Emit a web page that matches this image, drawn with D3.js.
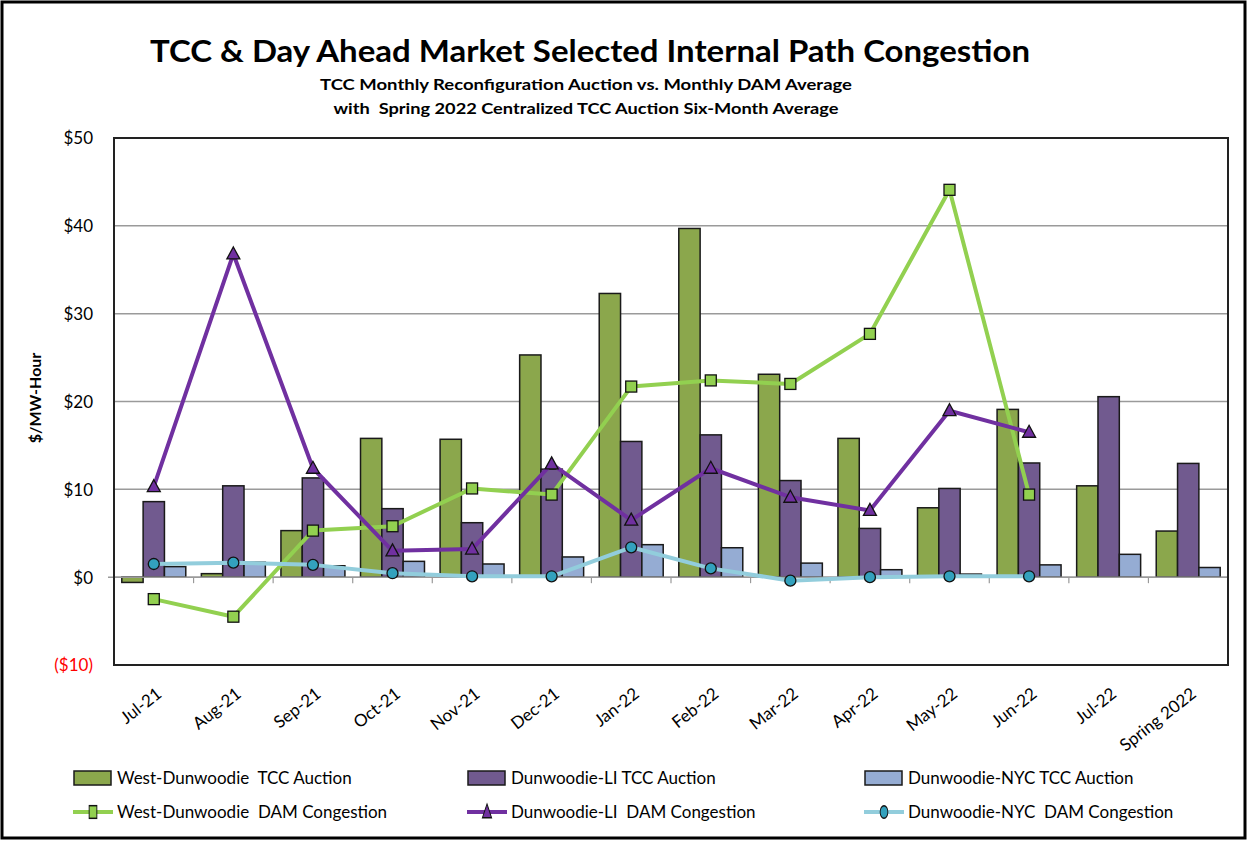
<!DOCTYPE html>
<html>
<head>
<meta charset="utf-8">
<script src="https://cdn.jsdelivr.net/npm/d3@7"></script>
<style>
  html, body { margin: 0; padding: 0; background: #fff; }
  svg { display: block; font-family: Lato, "Open Sans", sans-serif; }
</style>
</head>
<body>
<svg id="chart" width="1249" height="842"></svg>
<script>
// Months on the category axis (last one is the six-month auction)
const categories = ["Jul-21","Aug-21","Sep-21","Oct-21","Nov-21","Dec-21","Jan-22","Feb-22","Mar-22","Apr-22","May-22","Jun-22","Jul-22","Spring 2022"];

// TCC auction prices ($/MW-Hour)
const westDunwoodieTCC = [-0.6, 0.4, 5.3, 15.8, 15.7, 25.3, 32.3, 39.7, 23.1, 15.8, 7.9, 19.1, 10.4, 5.25];
const dunwoodieLITCC   = [8.6, 10.4, 11.3, 7.8, 6.2, 12.3, 15.45, 16.2, 11.0, 5.55, 10.1, 13.0, 20.55, 12.95];
const dunwoodieNYCTCC  = [1.2, 1.7, 1.3, 1.8, 1.5, 2.3, 3.7, 3.35, 1.6, 0.85, 0.35, 1.4, 2.6, 1.1];

// Monthly DAM congestion averages ($/MW-Hour); no DAM values after Jun-22
const westDunwoodieDAM = [-2.5, -4.5, 5.3, 5.8, 10.1, 9.4, 21.7, 22.4, 22.0, 27.7, 44.1, 9.4, null, null];
const dunwoodieLIDAM   = [10.3, 36.8, 12.4, 3.0, 3.2, 12.9, 6.5, 12.4, 9.1, 7.6, 18.95, 16.5, null, null];
const dunwoodieNYCDAM  = [1.5, 1.65, 1.4, 0.45, 0.1, 0.1, 3.4, 1.0, -0.4, 0.0, 0.1, 0.1, null, null];

const yTicks = [-10, 0, 10, 20, 30, 40, 50];

const barSeries = [
  { name: "West-Dunwoodie  TCC Auction", values: westDunwoodieTCC, color: "#8BA74C" },
  { name: "Dunwoodie-LI TCC Auction",    values: dunwoodieLITCC,   color: "#715A8F" },
  { name: "Dunwoodie-NYC TCC Auction",   values: dunwoodieNYCTCC,  color: "#95ACD3" }
];
const lineSeries = [
  { name: "West-Dunwoodie  DAM Congestion", values: westDunwoodieDAM, color: "#92D050", marker: "square",   fill: "#92D050" },
  { name: "Dunwoodie-LI  DAM Congestion",   values: dunwoodieLIDAM,   color: "#7030A0", marker: "triangle", fill: "#7030A0" },
  { name: "Dunwoodie-NYC  DAM Congestion",  values: dunwoodieNYCDAM,  color: "#92CDDC", marker: "circle",   fill: "#33A1BD" }
];

const svg = d3.select("#chart");
const W = 1249, H = 842;
const plot = { left: 114, right: 1228, top: 138, bottom: 665 };

// Outer frame
svg.append("rect").attr("x", 2).attr("y", 2).attr("width", W - 6).attr("height", H - 6)
  .attr("fill", "#fff").attr("stroke", "#000").attr("stroke-width", 3);

// Titles
svg.append("text").attr("x", 590).attr("y", 62).attr("text-anchor", "middle")
  .attr("font-size", 31).attr("font-weight", 700).attr("textLength", 880)
  .attr("lengthAdjust", "spacingAndGlyphs")
  .text("TCC & Day Ahead Market Selected Internal Path Congestion");
svg.append("text").attr("x", 586).attr("y", 90).attr("text-anchor", "middle")
  .attr("font-size", 16).attr("font-weight", 700).attr("textLength", 532)
  .attr("lengthAdjust", "spacingAndGlyphs")
  .text("TCC Monthly Reconfiguration Auction vs. Monthly DAM Average");
svg.append("text").attr("x", 586).attr("y", 114).attr("text-anchor", "middle")
  .attr("font-size", 16).attr("font-weight", 700).attr("textLength", 505)
  .attr("lengthAdjust", "spacingAndGlyphs").attr("xml:space", "preserve")
  .text("with  Spring 2022 Centralized TCC Auction Six-Month Average");

// Scales
const x = d3.scaleBand().domain(categories).range([plot.left, plot.right]);
const bw = x.bandwidth();
const xs = d3.scaleBand().domain(barSeries.map(d => d.name)).range([bw * 0.098, bw * 0.902]);
const y = d3.scaleLinear().domain([-10, 50]).range([plot.bottom, plot.top]);

// Gridlines
svg.append("g").selectAll("line").data(yTicks.filter(t => t > -10 && t < 50)).join("line")
  .attr("x1", plot.left).attr("x2", plot.right)
  .attr("y1", d => y(d)).attr("y2", d => y(d))
  .attr("stroke", "#9a9a9a").attr("stroke-width", 1.5);

// Y axis labels
const yAxis = d3.axisLeft(y).tickValues(yTicks).tickSize(0).tickPadding(0)
  .tickFormat(d => d < 0 ? `($${Math.abs(d)})` : `$${d}`);
const gy = svg.append("g").attr("transform", `translate(${plot.left - 21},0)`).call(yAxis);
gy.select(".domain").remove();
gy.selectAll("text").attr("font-size", 17).attr("font-family", "Lato, sans-serif")
  .attr("fill", d => d < 0 ? "#FF0000" : "#000").attr("dy", "0.35em");

svg.append("text").attr("transform", "translate(41,398) rotate(-90)")
  .attr("text-anchor", "middle").attr("font-size", 16).attr("font-weight", 700)
  .text("$/MW-Hour");

// Bars
const bars = svg.append("g");
barSeries.forEach(s => {
  bars.append("g").selectAll("rect").data(s.values.map((v, i) => ({ v, c: categories[i] }))).join("rect")
    .attr("x", d => x(d.c) + xs(s.name))
    .attr("width", xs.bandwidth())
    .attr("y", d => y(Math.max(0, d.v)))
    .attr("height", d => Math.abs(y(d.v) - y(0)))
    .attr("fill", s.color).attr("stroke", "#1a1a1a").attr("stroke-width", 1.5);
});

// Category axis along zero with ticks at band boundaries
svg.append("line").attr("x1", plot.left - 6).attr("x2", plot.right)
  .attr("y1", y(0)).attr("y2", y(0)).attr("stroke", "#9a9a9a").attr("stroke-width", 1.5);
svg.append("g").selectAll("line").data(categories.slice(1)).join("line")
  .attr("x1", d => x(d)).attr("x2", d => x(d))
  .attr("y1", y(0)).attr("y2", y(0) + 6)
  .attr("stroke", "#9a9a9a").attr("stroke-width", 1.2);

// DAM lines and markers
const cx = c => x(c) + bw / 2;
const line = d3.line().defined(d => d.v !== null).x(d => cx(d.c)).y(d => y(d.v));
function drawMarker(g, type, fill) {
  if (type === "square") {
    g.append("rect").attr("x", -5.5).attr("y", -5.5).attr("width", 11).attr("height", 11)
      .attr("fill", fill).attr("stroke", "#111").attr("stroke-width", 1.3);
  } else if (type === "triangle") {
    g.append("path").attr("d", "M0,-7L6.5,5L-6.5,5Z")
      .attr("fill", fill).attr("stroke", "#111").attr("stroke-width", 1.3);
  } else {
    g.append("circle").attr("r", 5.5)
      .attr("fill", fill).attr("stroke", "#111").attr("stroke-width", 1.3);
  }
}
lineSeries.forEach(s => {
  const pts = s.values.map((v, i) => ({ v, c: categories[i] }));
  svg.append("path").datum(pts).attr("d", line)
    .attr("fill", "none").attr("stroke", s.color).attr("stroke-width", 4)
    .attr("stroke-linejoin", "round");
});
lineSeries.forEach(s => {
  const pts = s.values.map((v, i) => ({ v, c: categories[i] })).filter(d => d.v !== null);
  pts.forEach(d => {
    const g = svg.append("g").attr("transform", `translate(${cx(d.c)},${y(d.v)})`);
    drawMarker(g, s.marker, s.fill);
  });
});

// Plot border
svg.append("rect").attr("x", plot.left).attr("y", plot.top)
  .attr("width", plot.right - plot.left).attr("height", plot.bottom - plot.top)
  .attr("fill", "none").attr("stroke", "#222").attr("stroke-width", 2);

// Rotated category labels
svg.append("g").selectAll("text").data(categories).join("text")
  .attr("transform", d => `translate(${cx(d) + 9},${plot.bottom + 31}) rotate(-38)`)
  .attr("text-anchor", "end").attr("font-size", 17)
  .text(d => d);

// Legend
const legCols = [73, 467, 864];
const legRows = [778, 812];
const legend = svg.append("g");
barSeries.forEach((s, i) => {
  const g = legend.append("g").attr("transform", `translate(${legCols[i]},${legRows[0]})`);
  g.append("rect").attr("x", 1).attr("y", -7).attr("width", 37).attr("height", 14)
    .attr("fill", s.color).attr("stroke", "#1a1a1a").attr("stroke-width", 1.5);
  g.append("text").attr("x", 44).attr("dy", "0.35em").attr("font-size", 17)
    .attr("xml:space", "preserve").text(s.name);
});
lineSeries.forEach((s, i) => {
  const g = legend.append("g").attr("transform", `translate(${legCols[i]},${legRows[1]})`);
  g.append("line").attr("x1", 0).attr("x2", 40).attr("stroke", s.color).attr("stroke-width", 4);
  const m = g.append("g").attr("transform", "translate(20,0) scale(0.7,1.15)");
  drawMarker(m, s.marker, s.fill);
  g.append("text").attr("x", 44).attr("dy", "0.35em").attr("font-size", 17)
    .attr("xml:space", "preserve").text(s.name);
});
</script>
</body>
</html>
